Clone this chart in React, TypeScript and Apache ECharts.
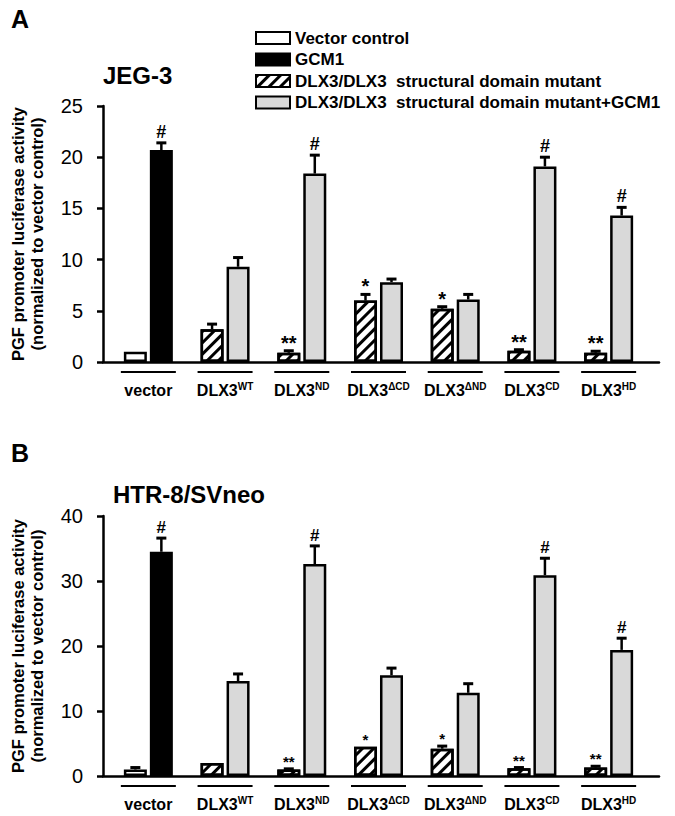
import React, { useEffect, useRef } from "react";
import * as echarts from "echarts";

// ---------- data ----------
const CAT_BASE = ["vector", "DLX3", "DLX3", "DLX3", "DLX3", "DLX3", "DLX3"];
const CAT_SUP = ["", "WT", "ND", "\u0394CD", "\u0394ND", "CD", "HD"];
const CATEGORIES = CAT_BASE.map((b, i) => b + CAT_SUP[i]);

const LEGEND_NAMES = [
  "Vector control",
  "GCM1",
  "DLX3/DLX3  structural domain mutant",
  "DLX3/DLX3  structural domain mutant+GCM1",
];

// Panel A: JEG-3  (left bar = vector control / mutant, right bar = GCM1 / mutant+GCM1)
const LEFT_A = [1.0, 3.2, 0.9, 6.0, 5.2, 1.1, 0.9];
const LEFT_ERR_A = [0, 0.5, 0.2, 0.6, 0.2, 0.1, 0.15];
const RIGHT_A = [20.7, 9.3, 18.4, 7.8, 6.1, 19.1, 14.3];
const RIGHT_ERR_A = [0.7, 0.9, 1.8, 0.3, 0.5, 0.9, 0.8];
const LEFT_MARK_A = ["", "", "**", "*", "*", "**", "**"];
const RIGHT_MARK_A = ["#", "", "#", "", "", "#", "#"];

// Panel B: HTR-8/SVneo
const LEFT_B = [1.0, 2.0, 1.0, 4.5, 4.2, 1.2, 1.3];
const LEFT_ERR_B = [0.3, 0, 0.1, 0, 0.4, 0.1, 0.2];
const RIGHT_B = [34.5, 14.6, 32.6, 15.5, 12.8, 30.9, 19.4];
const RIGHT_ERR_B = [2.1, 1.1, 2.8, 1.1, 1.4, 2.6, 1.8];
const LEFT_MARK_B = ["", "", "**", "*", "*", "**", "**"];
const RIGHT_MARK_B = ["#", "", "#", "", "", "#", "#"];

const Y_TICKS_A = { min: 0, max: 25, interval: 5 };
const Y_TICKS_B = { min: 0, max: 40, interval: 10 };

// ---------- style ----------
const FONT = "'Liberation Sans', Arial, sans-serif";
const BAR_W = 23;
const BAR_GAP = 3;
const LW = 2.5;
const GREY = "#d9d9d9";

const hatch = {
  symbol: "rect",
  symbolSize: 1,
  color: "#000",
  dashArrayX: [1, 0],
  dashArrayY: [3, 5],
  rotation: -Math.PI / 4,
};

function onlyFirst(arr: number[]) {
  return arr.map((v, i) => (i === 0 ? v : "-"));
}
function allButFirst(arr: number[]) {
  return arr.map((v, i) => (i === 0 ? "-" : v));
}

function panelSeries(
  p: string,
  axisIdx: number,
  left: number[],
  leftErr: number[],
  right: number[],
  rightErr: number[],
  leftMark: string[],
  rightMark: string[],
  hashSize: number,
  starSize: number,
  starDy: number
) {
  const base = {
    type: "bar",
    xAxisIndex: axisIdx,
    yAxisIndex: axisIdx,
    barWidth: BAR_W,
    barGap: `${Math.round((BAR_GAP / BAR_W) * 100)}%`,
  };
  const data: number[][] = [];
  const marks: string[] = [];
  left.forEach((v, i) => {
    data.push([i, v, leftErr[i], -1]);
    marks.push(leftMark[i]);
    data.push([i, right[i], rightErr[i], 1]);
    marks.push(rightMark[i]);
  });
  return [
    {
      ...base,
      name: LEGEND_NAMES[0],
      stack: p + "L",
      data: onlyFirst(left),
      itemStyle: { color: "#fff", borderColor: "#000", borderWidth: LW },
    },
    {
      ...base,
      name: LEGEND_NAMES[1],
      stack: p + "R",
      data: onlyFirst(right),
      itemStyle: { color: "#000", borderColor: "#000", borderWidth: LW },
    },
    {
      ...base,
      name: LEGEND_NAMES[2],
      stack: p + "L",
      data: allButFirst(left),
      itemStyle: { color: "#fff", borderColor: "#000", borderWidth: LW, decal: hatch },
    },
    {
      ...base,
      name: LEGEND_NAMES[3],
      stack: p + "R",
      data: allButFirst(right),
      itemStyle: { color: GREY, borderColor: "#000", borderWidth: LW },
    },
    {
      type: "custom",
      xAxisIndex: axisIdx,
      yAxisIndex: axisIdx,
      z: 10,
      clip: false,
      silent: true,
      data,
      renderItem: (params: any, api: any) => {
        const cat = api.value(0);
        const v = api.value(1);
        const e = api.value(2);
        const side = api.value(3);
        const p0 = api.coord([cat, v]);
        const p1 = api.coord([cat, v + e]);
        const x = p0[0] + (side * (BAR_W + BAR_GAP)) / 2;
        const children: any[] = [];
        if (e > 0) {
          children.push({
            type: "line",
            shape: { x1: x, y1: p0[1], x2: x, y2: p1[1] },
            style: { stroke: "#000", lineWidth: LW },
          });
          children.push({
            type: "line",
            shape: { x1: x - 5, y1: p1[1], x2: x + 5, y2: p1[1] },
            style: { stroke: "#000", lineWidth: 3 },
          });
        }
        const mark = marks[params.dataIndex];
        if (mark) {
          const isHash = mark === "#";
          children.push({
            type: "text",
            x,
            y: isHash ? p1[1] - 2 : p1[1] + starDy,
            style: {
              text: mark,
              align: "center",
              verticalAlign: "bottom",
              fontSize: isHash ? hashSize : starSize,
              fontWeight: "bold",
              fontFamily: FONT,
              fill: "#000",
            },
          });
        }
        return { type: "group", children };
      },
    },
  ];
}

const catLabel = {
  margin: 9,
  interval: 0,
  formatter: (_v: string, idx: number) =>
    `{u|}\n{sp|}\n{n|${CAT_BASE[idx]}}{s|${CAT_SUP[idx]}}`,
  rich: {
    u: { width: 55, height: 2, backgroundColor: "#000" },
    sp: { height: 8 },
    n: { fontSize: 16, fontWeight: "bold", lineHeight: 18, color: "#000", fontFamily: FONT },
    s: {
      fontSize: 10,
      fontWeight: "bold",
      lineHeight: 12,
      verticalAlign: "top",
      color: "#000",
      fontFamily: FONT,
    },
  },
};

const axisGridX = (g: number) => ({
  gridIndex: g,
  type: "value",
  min: 0,
  max: 1,
  axisLine: { show: true, onZero: false, lineStyle: { color: "#000", width: LW } },
  axisTick: { show: false },
  axisLabel: { show: false },
  splitLine: { show: false },
});

const barGridX = (g: number) => ({
  gridIndex: g,
  type: "category",
  data: CATEGORIES,
  axisLine: { show: false },
  axisTick: { show: false },
  axisLabel: catLabel,
  splitLine: { show: false },
});

const yTitle = "PGF promoter luciferase activity\n(normalized to vector control)";

const axisGridY = (g: number, t: any) => ({
  gridIndex: g,
  type: "value",
  ...t,
  name: yTitle,
  nameLocation: "middle",
  nameRotate: 90,
  nameGap: 57,
  nameTextStyle: { fontSize: 16.5, fontWeight: "bold", lineHeight: 19, color: "#000", fontFamily: FONT },
  axisLine: { show: true, lineStyle: { color: "#000", width: LW } },
  axisTick: { show: true, inside: false, length: 6, lineStyle: { color: "#000", width: LW } },
  axisLabel: { fontSize: 20, color: "#000", margin: 20, fontFamily: FONT },
  splitLine: { show: false },
});

const barGridY = (g: number, t: any) => ({
  gridIndex: g,
  type: "value",
  ...t,
  show: false,
  splitLine: { show: false },
});

export default function App() {
  const ref = useRef<HTMLDivElement>(null);
  useEffect(() => {
    if (!ref.current) return;
    const chart = echarts.init(ref.current, null, { renderer: "svg" });
    chart.setOption({
      animation: false,
      backgroundColor: "#fff",
      textStyle: { fontFamily: FONT },
      title: [
        { text: "A", left: 6, top: 1, textStyle: { fontSize: 25, fontWeight: "bold", color: "#000", fontFamily: FONT } },
        { text: "JEG-3", left: 98, top: 58, textStyle: { fontSize: 24, fontWeight: "bold", color: "#000", fontFamily: FONT } },
        { text: "B", left: 6, top: 435, textStyle: { fontSize: 25, fontWeight: "bold", color: "#000", fontFamily: FONT } },
        { text: "HTR-8/SVneo", left: 108, top: 477, textStyle: { fontSize: 24, fontWeight: "bold", color: "#000", fontFamily: FONT } },
      ],
      legend: {
        data: LEGEND_NAMES,
        orient: "vertical",
        left: 250,
        top: 24,
        icon: "rect",
        itemWidth: 34,
        itemHeight: 12,
        itemGap: 3.5,
        selectedMode: false,
        textStyle: { fontSize: 17, fontWeight: "bold", color: "#000", fontFamily: FONT, lineHeight: 18 },
      },
      grid: [
        { left: 97, top: 106, width: 562, height: 256 },
        { left: 110, top: 106, width: 537, height: 256 },
        { left: 97, top: 516, width: 562, height: 260 },
        { left: 110, top: 516, width: 537, height: 260 },
      ],
      xAxis: [axisGridX(0), barGridX(1), axisGridX(2), barGridX(3)],
      yAxis: [
        axisGridY(0, Y_TICKS_A),
        barGridY(1, Y_TICKS_A),
        axisGridY(2, Y_TICKS_B),
        barGridY(3, Y_TICKS_B),
      ],
      series: [
        ...panelSeries("A", 1, LEFT_A, LEFT_ERR_A, RIGHT_A, RIGHT_ERR_A, LEFT_MARK_A, RIGHT_MARK_A, 18, 20, 2),
        ...panelSeries("B", 3, LEFT_B, LEFT_ERR_B, RIGHT_B, RIGHT_ERR_B, LEFT_MARK_B, RIGHT_MARK_B, 17, 15, 0),
      ],
    });
    return () => chart.dispose();
  }, []);
  return (
    <div
      ref={ref}
      style={{ position: "absolute", left: 0, top: 0, width: 675, height: 816, background: "#fff" }}
    />
  );
}
